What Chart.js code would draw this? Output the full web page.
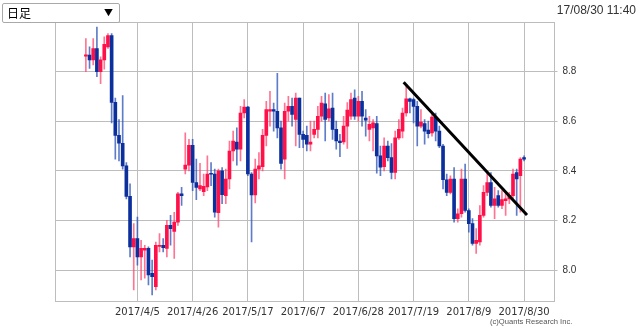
<!DOCTYPE html>
<html>
<head>
<meta charset="utf-8">
<script src="https://cdn.jsdelivr.net/npm/chart.js@4.4.1/dist/chart.umd.min.js"></script>
<style>
  body { margin: 0; background: #fff; width: 640px; height: 330px; overflow: hidden; position: relative; }
  #chart { position: absolute; left: 0; top: 0; }
  #sel {
    position: absolute; left: 2px; top: 3px; width: 116px; height: 18px;
    border: 1px solid #a9a9a9; border-radius: 2px; background: #fff;
    font: 12px "Noto Sans CJK JP", sans-serif; line-height: 18px; color: #000;
  }
  #sel .t { position: absolute; left: 4px; top: 0; }
  #sel .a { position: absolute; right: 6px; top: 0; font-size: 9px; }
  #stamp { position: absolute; right: 4px; top: 3px; font: 12px "Liberation Sans", Arial, sans-serif; color: #333; }
  #copy { position: absolute; left: 490px; top: 317px; font: 7.6px "Liberation Sans", Arial, sans-serif; color: #555; }
</style>
</head>
<body>
<canvas id="chart" width="640" height="330"></canvas>
<div id="sel"><span class="t">日足</span><span class="a">▼</span></div>
<div id="stamp">17/08/30 11:40</div>
<div id="copy">(c)Quants Research Inc.</div>
<script>
// daily candles, 2017/3/16 .. 2017/8/30 (weekdays)
const opens = [
  8.862, 8.867, 8.847, 8.893, 8.800, 8.847, 8.900, 8.945, 8.676, 8.543,
  8.511, 8.420, 8.297, 8.093, 8.127, 8.053, 8.080, 8.087, 7.987, 7.933,
  8.095, 8.100, 8.087, 8.180, 8.156, 8.193, 8.307, 8.407, 8.423, 8.503,
  8.353, 8.327, 8.316, 8.335, 8.390, 8.387, 8.231, 8.400, 8.300, 8.367,
  8.480, 8.516, 8.487, 8.633, 8.657, 8.387, 8.303, 8.407, 8.417, 8.543,
  8.640, 8.647, 8.640, 8.573, 8.447, 8.640, 8.660, 8.607, 8.693, 8.547,
  8.543, 8.507, 8.547, 8.567, 8.620, 8.670, 8.613, 8.653, 8.567, 8.520,
  8.516, 8.580, 8.620, 8.693, 8.620, 8.680, 8.613, 8.567, 8.573, 8.590,
  8.460, 8.417, 8.500, 8.453, 8.393, 8.533, 8.560, 8.633, 8.690, 8.687,
  8.660, 8.580, 8.590, 8.564, 8.553, 8.617, 8.560, 8.500, 8.364, 8.313,
  8.367, 8.207, 8.227, 8.367, 8.240, 8.187, 8.107, 8.113, 8.220, 8.313,
  8.353, 8.260, 8.300, 8.260, 8.280, 8.287, 8.300, 8.393, 8.380, 8.453
];
const highs = [
  8.933, 8.900, 8.933, 8.980, 8.860, 8.940, 8.953, 8.953, 8.693, 8.607,
  8.703, 8.433, 8.347, 8.187, 8.213, 8.120, 8.100, 8.093, 8.040, 8.113,
  8.147, 8.127, 8.200, 8.220, 8.233, 8.313, 8.333, 8.553, 8.527, 8.527,
  8.447, 8.430, 8.387, 8.460, 8.433, 8.407, 8.407, 8.413, 8.407, 8.520,
  8.560, 8.573, 8.660, 8.687, 8.660, 8.393, 8.447, 8.473, 8.567, 8.680,
  8.720, 8.673, 8.793, 8.600, 8.673, 8.700, 8.693, 8.713, 8.693, 8.560,
  8.580, 8.600, 8.600, 8.660, 8.700, 8.713, 8.707, 8.713, 8.600, 8.547,
  8.620, 8.675, 8.713, 8.727, 8.700, 8.720, 8.647, 8.620, 8.607, 8.620,
  8.500, 8.533, 8.520, 8.510, 8.560, 8.607, 8.653, 8.740, 8.693, 8.693,
  8.680, 8.647, 8.607, 8.600, 8.633, 8.633, 8.580, 8.507, 8.387, 8.380,
  8.413, 8.247, 8.407, 8.427, 8.247, 8.207, 8.167, 8.260, 8.340, 8.393,
  8.393, 8.333, 8.320, 8.320, 8.313, 8.313, 8.407, 8.407, 8.453, 8.460
];
const lows = [
  8.800, 8.813, 8.827, 8.780, 8.751, 8.810, 8.893, 8.593, 8.447, 8.440,
  8.407, 8.287, 8.053, 7.920, 8.020, 7.960, 7.967, 7.940, 7.900, 7.920,
  8.073, 8.073, 8.053, 8.100, 8.047, 8.180, 8.260, 8.387, 8.400, 8.320,
  8.284, 8.320, 8.300, 8.320, 8.340, 8.213, 8.173, 8.267, 8.267, 8.327,
  8.440, 8.423, 8.440, 8.613, 8.380, 8.113, 8.271, 8.367, 8.400, 8.500,
  8.580, 8.560, 8.533, 8.407, 8.367, 8.600, 8.580, 8.500, 8.493, 8.493,
  8.480, 8.480, 8.533, 8.533, 8.600, 8.520, 8.600, 8.527, 8.487, 8.457,
  8.507, 8.490, 8.607, 8.607, 8.600, 8.580, 8.540, 8.520, 8.480, 8.390,
  8.380, 8.400, 8.440, 8.367, 8.367, 8.527, 8.533, 8.620, 8.633, 8.593,
  8.500, 8.573, 8.507, 8.533, 8.540, 8.520, 8.493, 8.327, 8.300, 8.307,
  8.193, 8.193, 8.213, 8.233, 8.153, 8.100, 8.067, 8.100, 8.213, 8.300,
  8.253, 8.207, 8.253, 8.247, 8.220, 8.267, 8.287, 8.220, 8.233, 8.440
];
const closes = [
  8.868, 8.847, 8.893, 8.800, 8.847, 8.910, 8.945, 8.676, 8.543, 8.511,
  8.420, 8.297, 8.093, 8.127, 8.053, 8.087, 8.087, 7.980, 7.973, 8.100,
  8.100, 8.090, 8.180, 8.167, 8.193, 8.307, 8.300, 8.423, 8.503, 8.353,
  8.333, 8.340, 8.337, 8.387, 8.386, 8.233, 8.400, 8.304, 8.367, 8.480,
  8.520, 8.487, 8.633, 8.657, 8.387, 8.303, 8.407, 8.420, 8.543, 8.647,
  8.647, 8.640, 8.573, 8.430, 8.640, 8.660, 8.627, 8.693, 8.547, 8.527,
  8.507, 8.516, 8.567, 8.620, 8.673, 8.607, 8.650, 8.567, 8.520, 8.513,
  8.580, 8.645, 8.687, 8.620, 8.680, 8.620, 8.604, 8.587, 8.593, 8.460,
  8.415, 8.500, 8.453, 8.393, 8.533, 8.567, 8.633, 8.690, 8.680, 8.660,
  8.580, 8.596, 8.560, 8.550, 8.617, 8.560, 8.500, 8.364, 8.313, 8.367,
  8.207, 8.227, 8.367, 8.240, 8.187, 8.107, 8.120, 8.220, 8.313, 8.353,
  8.260, 8.287, 8.260, 8.284, 8.287, 8.300, 8.387, 8.367, 8.447, 8.447
];
const tickDates = ['2017/4/5', '2017/4/26', '2017/5/17', '2017/6/7', '2017/6/28', '2017/7/19', '2017/8/9', '2017/8/30'];
const yTicks = [8.0, 8.2, 8.4, 8.6, 8.8];
// hand-drawn trend line (x in trading-day index, y in price)
const trendX = [86.3, 119.8];
const trendY = [8.757, 8.222];

// weekday calendar for the candles
const dates = [];
const d = new Date(2017, 2, 16);
while (dates.length < opens.length) {
  if (d.getDay() !== 0 && d.getDay() !== 6) {
    dates.push(d.getFullYear() + '/' + (d.getMonth() + 1) + '/' + d.getDate());
  }
  d.setDate(d.getDate() + 1);
}

const upBody = '#ff1048', downBody = '#0b2f9c';
const upWick = 'rgba(255,70,110,0.75)', downWick = 'rgba(40,80,180,0.75)';
const isUp = i => closes[i] >= opens[i];

const frame = {
  id: 'frame',
  beforeDatasetsDraw(chart) {
    const a = chart.chartArea, c = chart.ctx;
    c.save();
    c.strokeStyle = '#bdbdbd';
    c.lineWidth = 1;
    c.strokeRect(Math.round(a.left) + 0.5, Math.round(a.top) + 0.5, Math.round(a.right - a.left) - 1, Math.round(a.bottom - a.top) - 1);
    c.restore();
  }
};

const config = {
  type: 'bar',
  data: {
    datasets: [
      {
        type: 'line',
        data: trendX.map((x, i) => ({ x: x, y: trendY[i] })),
        borderColor: '#000',
        borderWidth: 3,
        pointRadius: 0,
        order: 0
      },
      {
        data: dates.map((_, i) => ({ x: i, y: [opens[i], closes[i]] })),
        backgroundColor: ctx => isUp(ctx.dataIndex) ? upBody : downBody,
        barThickness: 3,
        minBarLength: 1,
        grouped: false,
        order: 1
      },
      {
        data: dates.map((_, i) => ({ x: i, y: [lows[i], highs[i]] })),
        backgroundColor: ctx => isUp(ctx.dataIndex) ? upWick : downWick,
        barThickness: 1,
        grouped: false,
        order: 2
      }
    ]
  },
  options: {
    responsive: false,
    animation: false,
    layout: { padding: { left: 55, top: 22, right: 0, bottom: 0 } },
    plugins: { legend: { display: false }, tooltip: { enabled: false } },
    scales: {
      x: {
        type: 'linear',
        min: -8.38,
        max: 127.27,
        offset: false,
        afterBuildTicks: s => { s.ticks = tickDates.map(t => ({ value: dates.indexOf(t) })); },
        afterFit: s => { s.height = 28; },
        grid: { color: '#bdbdbd', drawTicks: false, offset: false },
        border: { display: false },
        ticks: {
          padding: 4, maxRotation: 0, autoSkip: false,
          font: { family: 'DejaVu Sans', size: 10 }, color: '#333',
          callback: v => dates[v]
        }
      },
      y: {
        position: 'right',
        min: 7.871,
        max: 9.0,
        afterBuildTicks: s => { s.ticks = yTicks.map(v => ({ value: v })); },
        afterFit: s => { s.width = 85.5; },
        grid: { color: '#bdbdbd', tickLength: 3 },
        border: { display: false },
        ticks: {
          padding: 5,
          font: { family: 'Liberation Sans', size: 10 }, color: '#333',
          callback: v => v.toFixed(1)
        }
      }
    }
  },
  plugins: [frame]
};

const chart = new Chart(document.getElementById('chart'), config);
</script>
</body>
</html>
